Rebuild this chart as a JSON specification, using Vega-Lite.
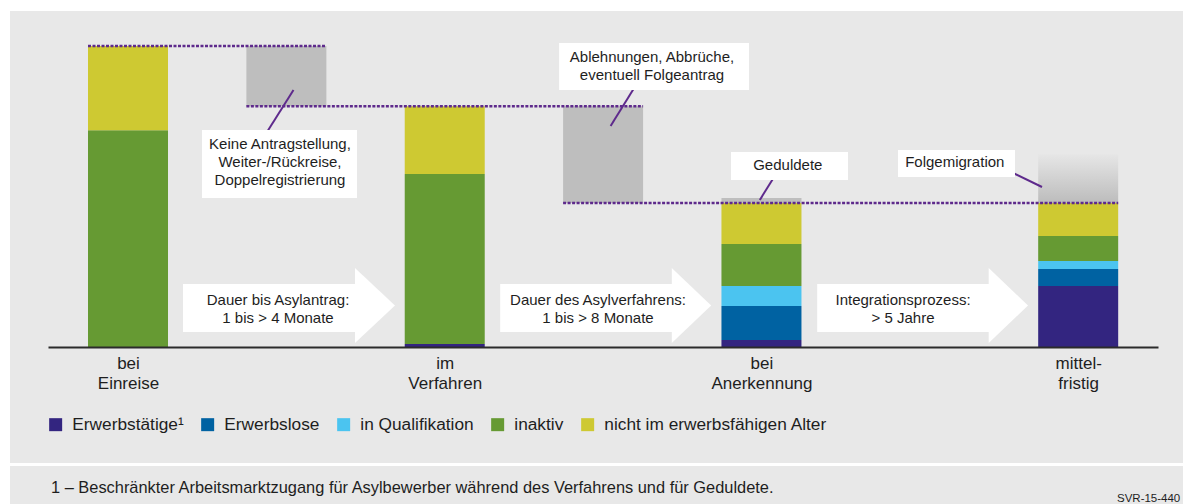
{
  "$schema": "https://vega.github.io/schema/vega-lite/v6.json",
  "width": 1110,
  "height": 336,
  "autosize": {"type": "none"},
  "padding": {"left": 48, "top": 11, "right": 25, "bottom": 157},
  "background": "#ffffff",
  "config": {"font": "Liberation Sans", "view": {"stroke": null}},
  "datasets": {
    "panels": [
      {"x0": 0.6274, "x1": 4.4, "y0": 111.63, "y1": -38.54},
      {"x0": 0.6274, "x1": 4.4, "y0": -39.53, "y1": -60}
    ],
    "bars": [
      {"stage": 1, "category": "inaktiv", "rank": 4, "value": 72},
      {"stage": 1, "category": "nicht im erwerbsfähigen Alter", "rank": 5, "value": 28},
      {"stage": 2, "category": "Erwerbstätige", "rank": 1, "value": 1},
      {"stage": 2, "category": "inaktiv", "rank": 4, "value": 56.5},
      {"stage": 2, "category": "nicht im erwerbsfähigen Alter", "rank": 5, "value": 22.5},
      {"stage": 3, "category": "Erwerbstätige", "rank": 1, "value": 2.3},
      {"stage": 3, "category": "Erwerbslose", "rank": 2, "value": 11.3},
      {"stage": 3, "category": "in Qualifikation", "rank": 3, "value": 6.7},
      {"stage": 3, "category": "inaktiv", "rank": 4, "value": 13.9},
      {"stage": 3, "category": "nicht im erwerbsfähigen Alter", "rank": 5, "value": 13.6},
      {"stage": 4, "category": "Erwerbstätige", "rank": 1, "value": 20.3},
      {"stage": 4, "category": "Erwerbslose", "rank": 2, "value": 5.6},
      {"stage": 4, "category": "in Qualifikation", "rank": 3, "value": 2.7},
      {"stage": 4, "category": "inaktiv", "rank": 4, "value": 8.3},
      {"stage": 4, "category": "nicht im erwerbsfähigen Alter", "rank": 5, "value": 10.9}
    ],
    "outflows": [
      {"stage": 1.5, "from": 80, "to": 100, "kind": "Keine Antragstellung"},
      {"stage": 2.5, "from": 47.8, "to": 80, "kind": "Ablehnungen"},
      {"stage": 3, "from": 47.8, "to": 49.5, "kind": "Geduldete"}
    ],
    "inflows": [
      {"stage": 4, "from": 47.8, "to": 64, "kind": "Folgemigration"}
    ],
    "levels": [
      {"level": 100, "from": 0.8737, "to": 1.6263},
      {"level": 80, "from": 1.3737, "to": 2.6263},
      {"level": 47.8, "from": 2.3737, "to": 4.1263}
    ],
    "arrowBodies": [
      {"arrow": 1, "x0": 1.1737, "x1": 1.7177, "y0": 20.93, "y1": 4.98},
      {"arrow": 2, "x0": 2.1751, "x1": 2.7179, "y0": 20.93, "y1": 4.98},
      {"arrow": 3, "x0": 3.176, "x1": 3.7185, "y0": 20.93, "y1": 4.98}
    ],
    "arrowHeads": [
      {"arrow": 1, "hx": 1.7167, "top": 26.25, "bottom": 1.33},
      {"arrow": 1, "hx": 1.843, "top": 13.79, "bottom": 13.79},
      {"arrow": 2, "hx": 2.7169, "top": 26.25, "bottom": 1.33},
      {"arrow": 2, "hx": 2.8413, "top": 13.79, "bottom": 13.79},
      {"arrow": 3, "hx": 3.7175, "top": 26.25, "bottom": 1.33},
      {"arrow": 3, "hx": 3.8416, "top": 13.79, "bottom": 13.79}
    ],
    "notes": [
      {"text": "Keine Antragstellung,\nWeiter-/Rückreise,\nDoppelregistrierung", "tx": 1.4799, "ty": 67.44, "bx0": 1.2337, "bx1": 1.7231, "by0": 72.1, "by1": 49.5, "lx0": 1.5225, "ly0": 85.38, "lx1": 1.4344, "ly1": 70.67},
      {"text": "Ablehnungen, Abbrüche,\neventuell Folgeantrag", "tx": 2.6544, "ty": 96.5, "bx0": 2.3611, "bx1": 2.9607, "by0": 101.0, "by1": 85.38, "lx0": 2.6093, "ly0": 87.94, "lx1": 2.5237, "ly1": 73.42},
      {"text": "Geduldete", "tx": 3.0832, "ty": 60.47, "bx0": 2.9038, "bx1": 3.2732, "by0": 64.78, "by1": 55.48, "lx0": 3.0478, "ly0": 57.81, "lx1": 2.9948, "ly1": 48.84},
      {"text": "Folgemigration", "tx": 3.6104, "ty": 61.6, "bx0": 3.4311, "bx1": 3.8005, "by0": 65.45, "by1": 56.48, "lx0": 3.7816, "ly0": 58.47, "lx1": 3.8858, "ly1": 53.16}
    ],
    "arrowNotes": [
      {"text": "Dauer bis Asylantrag:\n1 bis > 4 Monate", "tx": 1.4736, "ty": 15.61},
      {"text": "Dauer des Asylverfahrens:\n1 bis > 8 Monate", "tx": 2.4839, "ty": 15.61},
      {"text": "Integrationsprozess:\n> 5 Jahre", "tx": 3.4469, "ty": 15.61}
    ],
    "footnote": [
      {"text": "1 – Beschränkter Arbeitsmarktzugang für Asylbewerber während des Verfahrens und für Geduldete.", "tx": 0.7569, "ty": -48.67}
    ],
    "source": [
      {"text": "SVR-15-440", "tx": 4.1225, "ty": -51.5}
    ]
  },
  "layer": [
    {
      "data": {"name": "panels"},
      "mark": {"type": "rect", "color": "#e8e8e8"},
      "encoding": {
        "x": {"field": "x0", "type": "quantitative", "title": null,
          "scale": {"domain": [0.7474, 4.252], "nice": false, "zero": false, "padding": 0},
          "axis": {"values": [1, 2, 3, 4], "title": null, "ticks": false, "tickSize": 0, "grid": false,
            "labelExpr": "datum.value == 1 ? ['bei', 'Einreise'] : datum.value == 2 ? ['im', 'Verfahren'] : datum.value == 3 ? ['bei', 'Anerkennung'] : ['mittel-', 'fristig']",
            "domainColor": "#2b2b2b", "domainWidth": 2, "labelFontSize": 17, "labelColor": "#1e1e1e",
            "labelLineHeight": 20, "labelPadding": 8, "labelBaseline": "top", "labelOverlap": false,
            "labelFlush": false, "labelAngle": 0, "zindex": 1}},
        "x2": {"field": "x1"},
        "y": {"field": "y0", "type": "quantitative", "title": null,
          "scale": {"domain": [0, 111.63], "nice": false, "zero": false, "padding": 0}, "axis": null},
        "y2": {"field": "y1"}
      }
    },
    {
      "data": {"name": "arrowBodies"},
      "mark": {"type": "rect", "color": "#ffffff"},
      "encoding": {
        "x": {"field": "x0", "type": "quantitative", "title": null, "scale": {"domain": [0.7474, 4.252], "nice": false, "zero": false, "padding": 0}},
        "x2": {"field": "x1"},
        "y": {"field": "y0", "type": "quantitative", "title": null, "scale": {"domain": [0, 111.63], "nice": false, "zero": false, "padding": 0}, "axis": null},
        "y2": {"field": "y1"}
      }
    },
    {
      "data": {"name": "arrowHeads"},
      "mark": {"type": "area", "color": "#ffffff", "opacity": 1, "orient": "vertical"},
      "encoding": {
        "x": {"field": "hx", "type": "quantitative", "title": null, "scale": {"domain": [0.7474, 4.252], "nice": false, "zero": false, "padding": 0}},
        "y": {"field": "top", "type": "quantitative", "title": null, "scale": {"domain": [0, 111.63], "nice": false, "zero": false, "padding": 0}, "axis": null},
        "y2": {"field": "bottom"},
        "detail": {"field": "arrow", "type": "nominal"}
      }
    },
    {
      "data": {"name": "outflows"},
      "mark": {"type": "bar", "color": "#bebebe", "width": 80, "orient": "vertical"},
      "encoding": {
        "x": {"field": "stage", "type": "quantitative", "title": null, "scale": {"domain": [0.7474, 4.252], "nice": false, "zero": false, "padding": 0}},
        "y": {"field": "from", "type": "quantitative", "title": null, "scale": {"domain": [0, 111.63], "nice": false, "zero": false, "padding": 0}, "axis": null},
        "y2": {"field": "to"}
      }
    },
    {
      "data": {"name": "inflows"},
      "mark": {"type": "bar", "width": 80, "orient": "vertical",
        "color": {"gradient": "linear", "x1": 0, "y1": 1, "x2": 0, "y2": 0,
          "stops": [{"offset": 0, "color": "#bcbcbc"}, {"offset": 1, "color": "#e6e6e6"}]}},
      "encoding": {
        "x": {"field": "stage", "type": "quantitative", "title": null, "scale": {"domain": [0.7474, 4.252], "nice": false, "zero": false, "padding": 0}},
        "y": {"field": "from", "type": "quantitative", "title": null, "scale": {"domain": [0, 111.63], "nice": false, "zero": false, "padding": 0}, "axis": null},
        "y2": {"field": "to"}
      }
    },
    {
      "data": {"name": "bars"},
      "mark": {"type": "bar", "width": 80, "orient": "vertical"},
      "encoding": {
        "x": {"field": "stage", "type": "quantitative", "title": null, "scale": {"domain": [0.7474, 4.252], "nice": false, "zero": false, "padding": 0}},
        "y": {"field": "value", "type": "quantitative", "stack": "zero", "title": null, "scale": {"domain": [0, 111.63], "nice": false, "zero": false, "padding": 0}, "axis": null},
        "order": {"field": "rank", "type": "quantitative", "sort": "ascending"},
        "color": {"field": "category", "type": "nominal",
          "scale": {"domain": ["Erwerbstätige", "Erwerbslose", "in Qualifikation", "inaktiv", "nicht im erwerbsfähigen Alter"],
            "range": ["#332580", "#0062a2", "#4bc4f0", "#669a33", "#cec932"]},
          "legend": {"orient": "none", "direction": "horizontal", "legendX": -1, "legendY": 405, "title": null,
            "symbolType": "square", "symbolSize": 169, "symbolStrokeWidth": 0, "symbolOpacity": 1,
            "labelFontSize": 17.3, "labelColor": "#1e1e1e", "labelOffset": 8, "columnPadding": 15, "padding": 0,
            "labelLimit": 400,
            "labelExpr": "datum.label == 'Erwerbstätige' ? 'Erwerbstätige¹\u2002' : datum.label"}}
      }
    },
    {
      "data": {"name": "levels"},
      "mark": {"type": "rule", "color": "#5e2a8c", "strokeWidth": 2.5, "strokeDash": [3, 1.5]},
      "encoding": {
        "x": {"field": "from", "type": "quantitative", "title": null, "scale": {"domain": [0.7474, 4.252], "nice": false, "zero": false, "padding": 0}},
        "x2": {"field": "to"},
        "y": {"field": "level", "type": "quantitative", "title": null, "scale": {"domain": [0, 111.63], "nice": false, "zero": false, "padding": 0}, "axis": null}
      }
    },
    {
      "data": {"name": "notes"},
      "mark": {"type": "rule", "color": "#5e2a8c", "strokeWidth": 2},
      "encoding": {
        "x": {"field": "lx0", "type": "quantitative", "title": null, "scale": {"domain": [0.7474, 4.252], "nice": false, "zero": false, "padding": 0}},
        "x2": {"field": "lx1"},
        "y": {"field": "ly0", "type": "quantitative", "title": null, "scale": {"domain": [0, 111.63], "nice": false, "zero": false, "padding": 0}, "axis": null},
        "y2": {"field": "ly1"}
      }
    },
    {
      "data": {"name": "notes"},
      "mark": {"type": "rect", "color": "#ffffff"},
      "encoding": {
        "x": {"field": "bx0", "type": "quantitative", "title": null, "scale": {"domain": [0.7474, 4.252], "nice": false, "zero": false, "padding": 0}},
        "x2": {"field": "bx1"},
        "y": {"field": "by0", "type": "quantitative", "title": null, "scale": {"domain": [0, 111.63], "nice": false, "zero": false, "padding": 0}, "axis": null},
        "y2": {"field": "by1"}
      }
    },
    {
      "data": {"name": "notes"},
      "mark": {"type": "text", "fontSize": 15, "color": "#1e1e1e", "align": "center", "baseline": "middle", "lineBreak": "\n", "lineHeight": 18},
      "encoding": {
        "x": {"field": "tx", "type": "quantitative", "title": null, "scale": {"domain": [0.7474, 4.252], "nice": false, "zero": false, "padding": 0}},
        "y": {"field": "ty", "type": "quantitative", "title": null, "scale": {"domain": [0, 111.63], "nice": false, "zero": false, "padding": 0}, "axis": null},
        "text": {"field": "text"}
      }
    },
    {
      "data": {"name": "arrowNotes"},
      "mark": {"type": "text", "fontSize": 15, "color": "#1e1e1e", "align": "center", "baseline": "middle", "lineBreak": "\n", "lineHeight": 18},
      "encoding": {
        "x": {"field": "tx", "type": "quantitative", "title": null, "scale": {"domain": [0.7474, 4.252], "nice": false, "zero": false, "padding": 0}},
        "y": {"field": "ty", "type": "quantitative", "title": null, "scale": {"domain": [0, 111.63], "nice": false, "zero": false, "padding": 0}, "axis": null},
        "text": {"field": "text"}
      }
    },
    {
      "data": {"name": "footnote"},
      "mark": {"type": "text", "fontSize": 16.4, "color": "#1e1e1e", "align": "left", "baseline": "alphabetic"},
      "encoding": {
        "x": {"field": "tx", "type": "quantitative", "title": null, "scale": {"domain": [0.7474, 4.252], "nice": false, "zero": false, "padding": 0}},
        "y": {"field": "ty", "type": "quantitative", "title": null, "scale": {"domain": [0, 111.63], "nice": false, "zero": false, "padding": 0}, "axis": null},
        "text": {"field": "text"}
      }
    },
    {
      "data": {"name": "source"},
      "mark": {"type": "text", "fontSize": 11.5, "color": "#1e1e1e", "align": "left", "baseline": "alphabetic"},
      "encoding": {
        "x": {"field": "tx", "type": "quantitative", "title": null, "scale": {"domain": [0.7474, 4.252], "nice": false, "zero": false, "padding": 0}},
        "y": {"field": "ty", "type": "quantitative", "title": null, "scale": {"domain": [0, 111.63], "nice": false, "zero": false, "padding": 0}, "axis": null},
        "text": {"field": "text"}
      }
    }
  ]
}
